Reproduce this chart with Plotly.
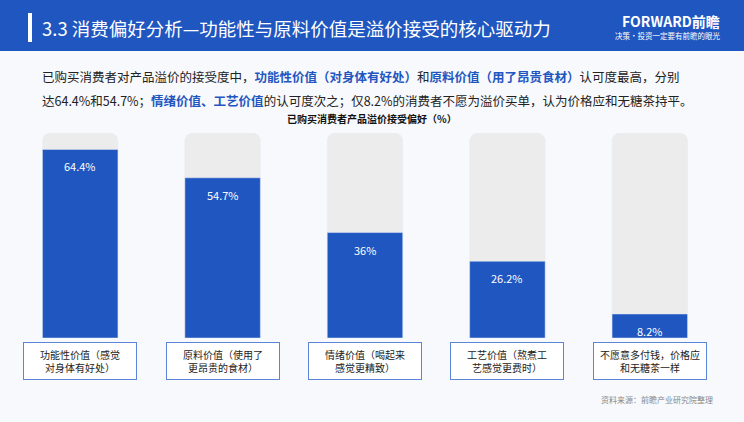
import plotly.graph_objects as go

categories = ["功能性价值（感觉<br>对身体有好处）", "原料价值（使用了<br>更昂贵的食材）", "情绪价值（喝起来<br>感觉更精致）",
              "工艺价值（熬煮工<br>艺感觉更费时）", "不愿意多付钱，价格应<br>和无糖茶一样"]
values = [64.4, 54.7, 36, 26.2, 8.2]
value_labels = ["64.4%", "54.7%", "36%", "26.2%", "8.2%"]
track = [70, 70, 70, 70, 70]

W, H = 744, 422
blue = "#1f56c0"
x_pos = list(range(len(values)))

fig = go.Figure()
fig.add_bar(x=x_pos, y=track, marker=dict(color="#ececec", cornerradius=8), width=0.53, hoverinfo="skip")
fig.add_bar(x=x_pos, y=values, marker=dict(color=blue, cornerradius=8), width=0.53)


def note(x, y, text, size, color, xanchor="left", **kw):
    fig.add_annotation(x=x / W, y=1 - y / H, xref="paper", yref="paper", xanchor=xanchor, yanchor="middle",
                       showarrow=False, text=text, font=dict(size=size, color=color), **kw)


# header
fig.add_shape(type="rect", xref="paper", yref="paper", x0=0, x1=1, y0=1 - 51 / H, y1=1,
              fillcolor="#1f56c0", line_width=0, layer="below")
fig.add_shape(type="rect", xref="paper", yref="paper", x0=28 / W, x1=32 / W, y0=1 - 42 / H, y1=1 - 13 / H,
              fillcolor="white", line_width=0)
note(40, 28, "3.3 消费偏好分析—功能性与原料价值是溢价接受的核心驱动力", 18.5, "white")
note(722, 21, "<b>FORWARD前瞻</b>", 14, "white", xanchor="right")
note(722, 35, "决策·投资一定要有前瞻的眼光", 7.5, "white", xanchor="right")

hl = "<b><span style='color:#1f56c0'>{}</span></b>"
line1 = ("已购买消费者对产品溢价的接受度中，" + hl.format("功能性价值（对身体有好处）") + "和"
         + hl.format("原料价值（用了昂贵食材）") + "认可度最高，分别")
line2 = ("达64.4%和54.7%；" + hl.format("情绪价值、工艺价值") + "的认可度次之；仅8.2%的消费者不愿为溢价买单，认为价格应和无糖茶持平。")
note(40, 77, line1, 12.5, "#222")
note(40, 100, line2, 12.5, "#222")
note(W / 2, 119, "<b>已购买消费者产品溢价接受偏好（%）</b>", 10, "#111", xanchor="center")

for i, (v, lab, cat) in enumerate(zip(values, value_labels, categories)):
    fig.add_annotation(x=i, y=v, yshift=-17, yanchor="middle", showarrow=False, text=lab,
                       font=dict(size=11, color="white"))
    fig.add_annotation(x=i, y=1 - 361 / H, yref="paper", yanchor="middle", showarrow=False, text=cat,
                       width=108, height=32, bgcolor="white", bordercolor="#5b86d8", borderwidth=1,
                       borderpad=2, font=dict(size=10, color="#222"))

note(715, 399, "资料来源：前瞻产业研究院整理", 8, "#888", xanchor="right")

fig.update_layout(
    width=W, height=H, margin=dict(l=0, r=0, t=0, b=0),
    paper_bgcolor="#f7f9fd", plot_bgcolor="rgba(0,0,0,0)",
    barmode="overlay", showlegend=False,
    font=dict(family="Noto Sans CJK SC"),
    xaxis=dict(domain=[9 / W, 721 / W], range=[-0.5, 4.5], visible=False),
    yaxis=dict(domain=[(H - 338) / H, (H - 133) / H], range=[0, 70], visible=False),
)
fig.write_html("out.html", config={"displayModeBar": False},
               post_script="document.body.style.margin='0';")
